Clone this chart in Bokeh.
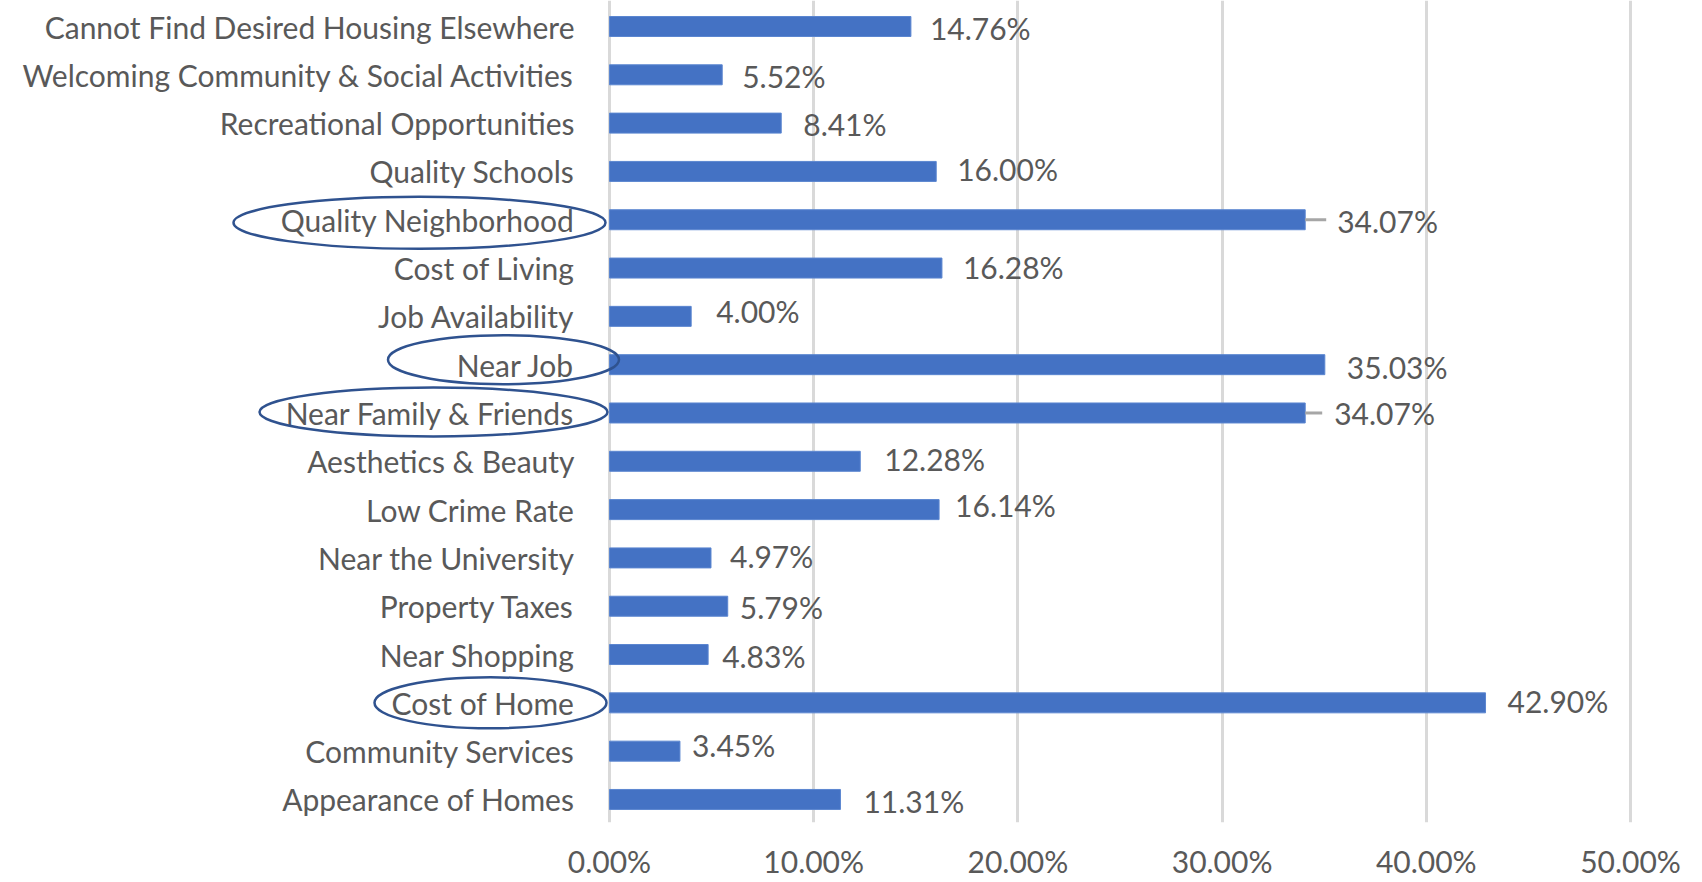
from bokeh.plotting import figure
from bokeh.models import Range1d, FixedTicker, PrintfTickFormatter, ColumnDataSource
from bokeh.core.properties import value
from bokeh.embed import file_html
from bokeh.resources import INLINE

# ---- data (top to bottom) ----
categories = [
    "Cannot Find Desired Housing Elsewhere",
    "Welcoming Community & Social Activities",
    "Recreational Opportunities",
    "Quality Schools",
    "Quality Neighborhood",
    "Cost of Living",
    "Job Availability",
    "Near Job",
    "Near Family & Friends",
    "Aesthetics & Beauty",
    "Low Crime Rate",
    "Near the University",
    "Property Taxes",
    "Near Shopping",
    "Cost of Home",
    "Community Services",
    "Appearance of Homes",
]
percents = [14.76, 5.52, 8.41, 16.00, 34.07, 16.28, 4.00, 35.03, 34.07,
            12.28, 16.14, 4.97, 5.79, 4.83, 42.90, 3.45, 11.31]
x_ticks = [0, 10, 20, 30, 40, 50]
highlighted = ["Quality Neighborhood", "Near Job", "Near Family & Friends", "Cost of Home"]
leader_lined = ["Quality Neighborhood", "Near Family & Friends"]

# ---- styling / placement (pixels) ----
label_gap_px = [19, 20, 22, 21, 32, 21, 25, 22, 29, 24, 16, 19, 12, 14, 22, 12, 23]
label_dy_px = [1, 1, 1, -2, 1, -1, -5, 2, 0, -2, -5, -2, 1, 1, -2, -6, 2]
ellipse_cx_px = [-190, -106, -176, -119]
ellipse_dy_px = [3, -5, -1, 0]
ellipse_w_px = [372, 231, 348, 232]
ellipse_h_px = [52, 49, 49, 51]
leader_len_px = [21, 17]

FW, FH = 1700, 822
x0_px = 609.0
px_per_unit_x = 20.42
row0_px = 26.0
row_px = 48.31

x_start = -x0_px / px_per_unit_x
x_end = x_start + FW / px_per_unit_x
y_top = -row0_px / row_px
y_bottom = y_top + FH / row_px

FONT = "Lato"
FS = "30px"
TXT = "#595959"
BAR = "#4472C4"
GRID = "#D9D9D9"
OVAL = "#2F528F"

n = len(categories)
idx = list(range(n))

p = figure(frame_width=FW, frame_height=FH, output_backend="svg", toolbar_location=None,
           x_range=Range1d(x_start, x_end), y_range=Range1d(y_bottom, y_top),
           y_axis_location=None, min_border_left=0, min_border_right=0,
           min_border_top=0, min_border_bottom=0)
p.outline_line_color = None
p.background_fill_color = "white"
p.border_fill_color = "white"

# grid & x axis
p.xaxis.ticker = FixedTicker(ticks=x_ticks)
p.xaxis.formatter = PrintfTickFormatter(format="%.2f%%")
p.xaxis.axis_line_color = None
p.xaxis.major_tick_line_color = None
p.xaxis.minor_tick_line_color = None
p.xaxis.major_tick_out = 0
p.xaxis.major_label_standoff = 20
p.xaxis.major_label_text_font = FONT
p.xaxis.major_label_text_font_size = FS
p.xaxis.major_label_text_color = TXT
p.xgrid.ticker = FixedTicker(ticks=x_ticks)
p.xgrid.grid_line_color = GRID
p.xgrid.grid_line_width = 3
p.ygrid.grid_line_color = None

src = ColumnDataSource(dict(
    y=idx, v=percents, cat=categories,
    lbl=[f"{v:.2f}%" for v in percents],
    gap=label_gap_px, dy=label_dy_px,
))

# bars
p.hbar(y="y", left=0, right="v", height=20 / row_px, source=src,
       fill_color=BAR, line_color="#5B86D0", line_width=1)

# leader lines
ll_idx = [categories.index(c) for c in leader_lined]
p.segment(x0=[percents[i] for i in ll_idx],
          x1=[percents[i] + leader_len_px[k] / px_per_unit_x for k, i in enumerate(ll_idx)],
          y0=ll_idx, y1=ll_idx, line_color="#A6A6A6", line_width=3)

# data labels
p.text(x="v", y="y", text="lbl", source=src, x_offset="gap", y_offset="dy",
       text_font=value(FONT), text_font_size=FS, text_color=TXT,
       text_align="left", text_baseline="middle")

# category labels
p.text(x=0, y="y", text="cat", source=src, x_offset=-35,
       text_font=value(FONT), text_font_size=FS, text_color=TXT,
       text_align="right", text_baseline="middle")

# highlight ovals
h_idx = [categories.index(c) for c in highlighted]
p.ellipse(x=[c / px_per_unit_x for c in ellipse_cx_px],
          y=[i + ellipse_dy_px[k] / row_px for k, i in enumerate(h_idx)],
          width=ellipse_w_px, height=ellipse_h_px,
          width_units="screen", height_units="screen",
          fill_color=None, line_color=OVAL, line_width=2.5)

open("out.html", "w").write(file_html(p, INLINE))
